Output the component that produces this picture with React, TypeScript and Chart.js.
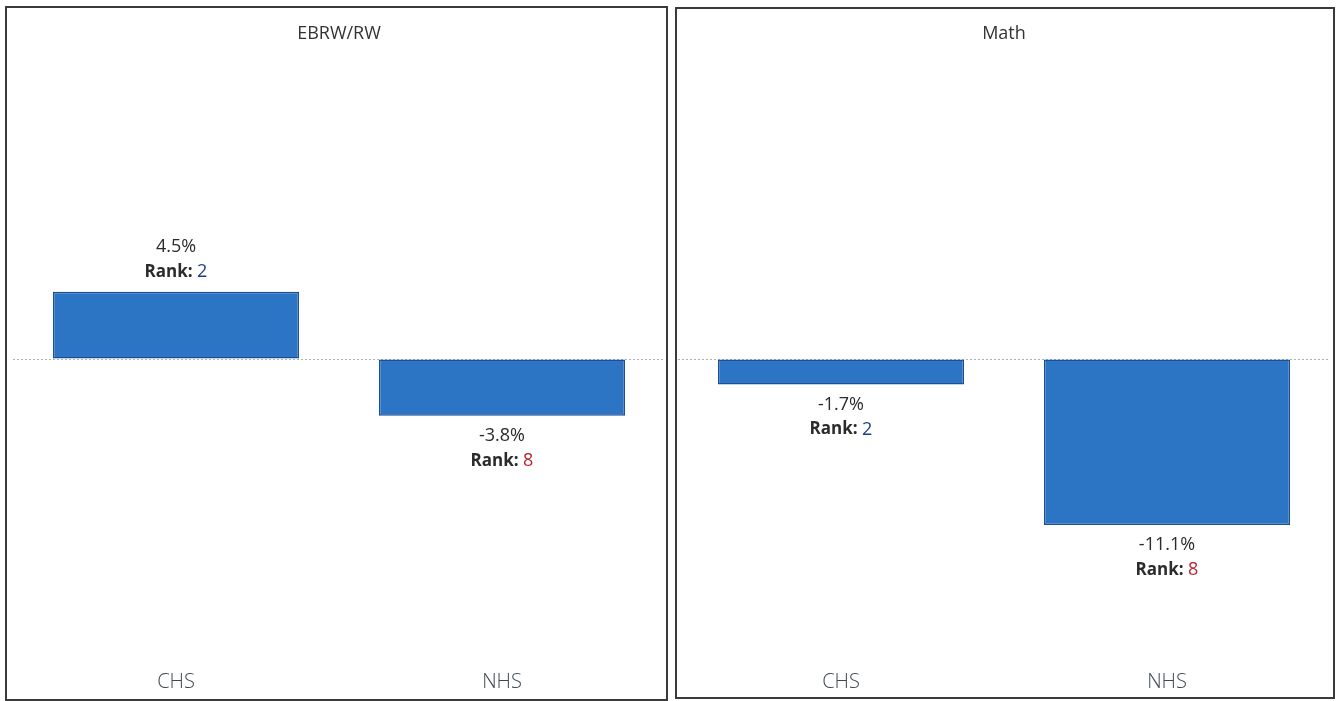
import React, { useEffect, useRef } from "react";
import { Chart, registerables } from "chart.js";

Chart.register(...registerables);

const categories = ["CHS", "NHS"];
const ebrwValues = [4.5, -3.8];
const ebrwRanks = [2, 8];
const mathValues = [-1.7, -11.1];
const mathRanks = [2, 8];
const rankColors: Record<number, string> = { 2: "#1d3f8a", 8: "#b3262e" };
const yMin = -20;
const yMax = 20;

const FONT = "'Open Sans', 'Noto Sans', sans-serif";
const CANVAS_H = 702;

const labelPlugin = {
  id: "barLabels",
  afterDatasetsDraw(chart: any) {
    const opts = chart.options.plugins.barLabels;
    if (!opts) return;
    const ctx = chart.ctx;
    const meta = chart.getDatasetMeta(0);
    const values = chart.data.datasets[0].data as number[];
    meta.data.forEach((bar: any, i: number) => {
      const v = values[i];
      const x = bar.x;
      const y = bar.y;
      const dir = v >= 0 ? -1 : 1;
      const valueY = y + dir * (v >= 0 ? 45 : 20);
      const rankY = y + dir * (v >= 0 ? 20 : 45);
      ctx.save();
      ctx.textBaseline = "middle";
      ctx.textAlign = "center";
      ctx.fillStyle = "#2b2b2b";
      ctx.font = `18px ${FONT}`;
      ctx.fillText(`${v.toFixed(1)}%`, x, valueY);
      const rank = opts.ranks[i];
      const a = "Rank: ";
      const b = String(rank);
      ctx.font = `bold 17px ${FONT}`;
      const wa = ctx.measureText(a).width;
      ctx.font = `18px ${FONT}`;
      const wb = ctx.measureText(b).width;
      const start = x - (wa + wb) / 2;
      ctx.textAlign = "left";
      ctx.font = `bold 17px ${FONT}`;
      ctx.fillStyle = "#2b2b2b";
      ctx.fillText(a, start, rankY);
      ctx.font = `18px ${FONT}`;
      ctx.fillStyle = rankColors[rank] || "#2b2b2b";
      ctx.fillText(b, start + wa, rankY);
      ctx.restore();
    });
  },
};

function Panel(props: {
  title: string;
  values: number[];
  ranks: number[];
  left: number;
  width: number;
  padLeft: number;
  padRight: number;
}) {
  const ref = useRef<HTMLCanvasElement | null>(null);
  useEffect(() => {
    if (!ref.current) return;
    const chart = new Chart(ref.current, {
      type: "bar",
      data: {
        labels: categories,
        datasets: [
          {
            data: props.values,
            backgroundColor: "#2c75c5",
            borderColor: "#1c4f98",
            borderWidth: 1.5,
            borderSkipped: false,
            categoryPercentage: 1,
            barPercentage: 0.755,
          },
        ],
      },
      options: {
        responsive: false,
        animation: false,
        layout: {
          padding: { left: props.padLeft, right: props.padRight, top: 0, bottom: 4 },
        },
        plugins: {
          legend: { display: false },
          tooltip: { enabled: false },
          title: {
            display: true,
            text: props.title,
            color: "#333333",
            font: { family: FONT, size: 18, weight: "normal" as any, lineHeight: 1.2 },
            padding: { top: 15.4, bottom: 15.0 },
          },
          barLabels: { ranks: props.ranks },
        } as any,
        scales: {
          x: {
            grid: { display: false, drawTicks: false },
            border: { display: false },
            ticks: {
              color: "#3d4852",
              padding: 12,
              font: { family: FONT, size: 20, weight: "300" as any, lineHeight: 1.2 },
            },
          },
          y: {
            min: yMin,
            max: yMax,
            ticks: { display: false, stepSize: 20 },
            grid: {
              drawTicks: false,
              lineWidth: 1,
              color: (c: any) => (c.tick && c.tick.value === 0 ? "#a8b3bf" : "rgba(0,0,0,0)"),
            },
            border: { display: false, dash: [2, 2] },
          },
        },
      },
      plugins: [labelPlugin],
    });
    return () => chart.destroy();
  }, []);
  return (
    <canvas
      ref={ref}
      width={props.width}
      height={CANVAS_H}
      style={{ position: "absolute", left: props.left, top: 8, width: props.width, height: CANVAS_H }}
    />
  );
}

export default function App() {
  return (
    <div
      style={{
        position: "fixed",
        left: 0,
        top: 0,
        width: 1337,
        height: 701,
        background: "#ffffff",
        overflow: "hidden",
      }}
    >
      <div
        style={{
          position: "absolute",
          left: 5,
          top: 6,
          width: 663,
          height: 695,
          border: "2px solid #3a3a3a",
          boxSizing: "border-box",
        }}
      />
      <div
        style={{
          position: "absolute",
          left: 675,
          top: 7,
          width: 660,
          height: 692,
          border: "2px solid #3a3a3a",
          boxSizing: "border-box",
        }}
      />
      <Panel title="EBRW/RW" values={ebrwValues} ranks={ebrwRanks} left={8} width={658} padLeft={5} padRight={1} />
      <Panel title="Math" values={mathValues} ranks={mathRanks} left={678} width={654} padLeft={0} padRight={2} />
    </div>
  );
}
